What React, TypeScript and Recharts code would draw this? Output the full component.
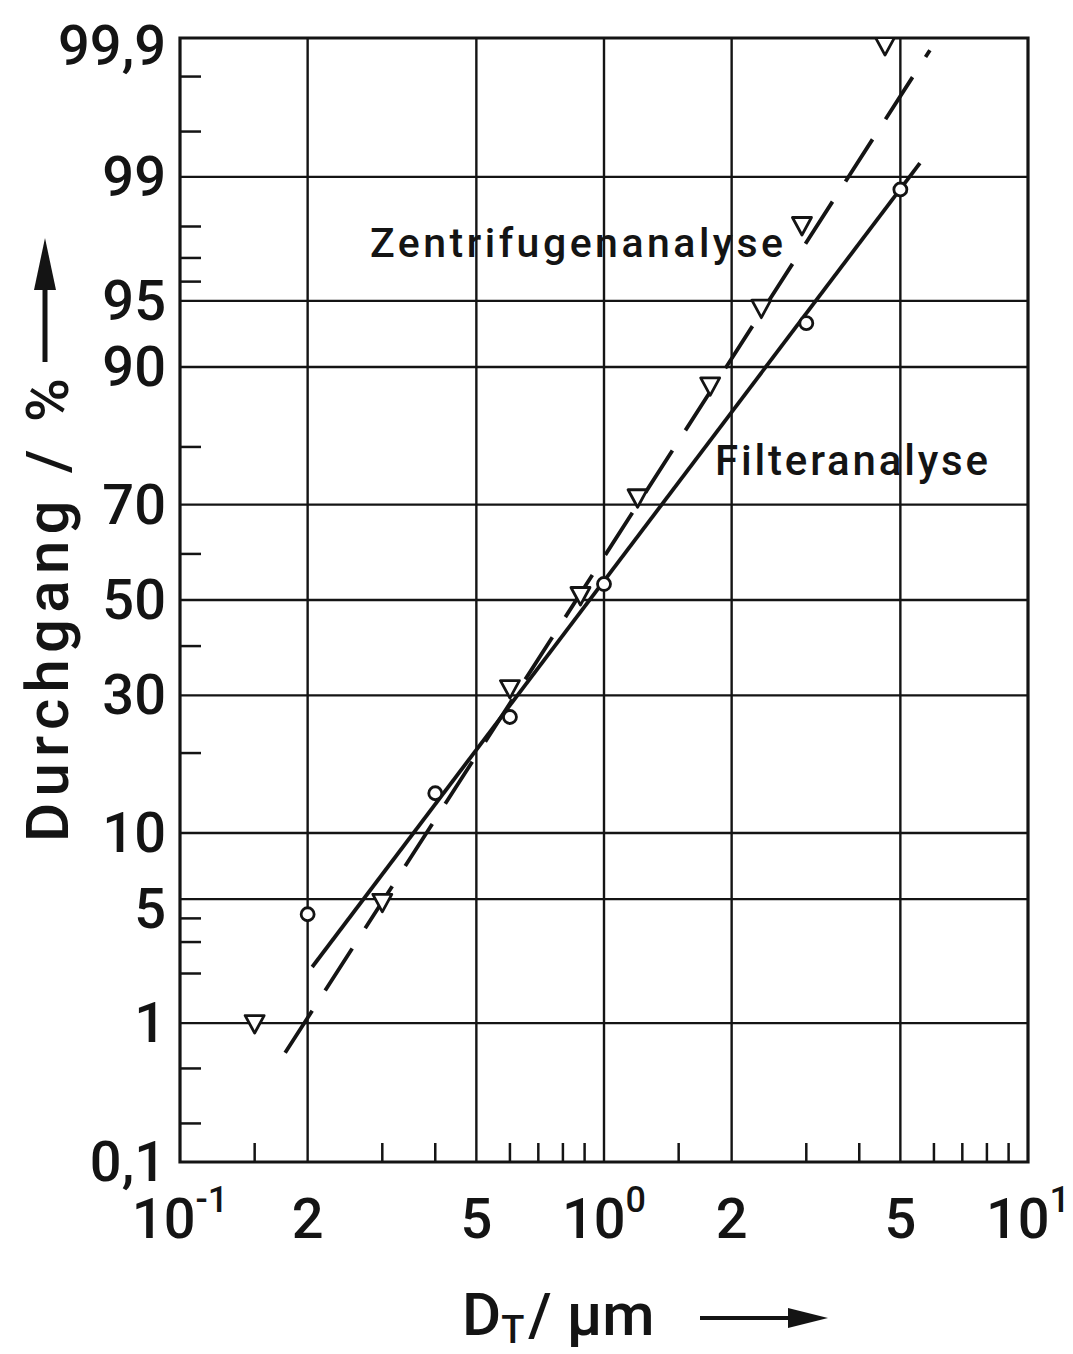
import React from "react";
import { ScatterChart, Scatter, XAxis, YAxis, ReferenceLine, ReferenceArea } from "recharts";

// ---------- data ----------
const filterD = [0.2, 0.4, 0.6, 1.0, 3.0, 5.0];
const filterP = [4.2, 14.4, 26.0, 53.5, 93.6, 98.8];

const zentD = [0.15, 0.3, 0.6, 0.88, 1.2, 1.78, 2.35, 2.93, 4.6];
const zentP = [1.0, 4.85, 31.4, 51.1, 71.4, 88.1, 94.6, 98.04, 99.886];

const filterLineD = [0.205, 5.56];
const filterLineP = [2.18, 99.186];
const zentLineD = [0.177, 5.87];
const zentLineP = [0.639, 99.875];

const yMajor = [0.1, 1, 5, 10, 30, 50, 70, 90, 95, 99, 99.9];
const yMajorLabels = ["0,1", "1", "5", "10", "30", "50", "70", "90", "95", "99", "99,9"];
const yMinor = [0.2, 0.5, 2, 3, 4, 20, 40, 60, 80, 96, 97, 98, 99.5, 99.8];

const xMajor = [0.1, 0.2, 0.5, 1, 2, 5, 10];
const xMajorBase = ["10", "2", "5", "10", "2", "5", "10"];
const xMajorSup = ["-1", "", "", "0", "", "", "1"];
const xMinor = [0.15, 0.3, 0.4, 0.6, 0.7, 0.8, 0.9, 1.5, 3, 4, 6, 7, 8, 9];

// ---------- probability (probit) transform ----------
function probit(pct: number): number {
  const p = pct / 100;
  const a = [-3.969683028665376e1, 2.209460984245205e2, -2.759285104469687e2, 1.38357751867269e2, -3.066479806614716e1, 2.506628277459239];
  const b = [-5.447609879822406e1, 1.615858368580409e2, -1.556989798598866e2, 6.680131188771972e1, -1.328068155288572e1];
  const c = [-7.784894002430293e-3, -3.223964580411365e-1, -2.400758277161838, -2.549732539343734, 4.374664141464968, 2.938163982698783];
  const d = [7.784695709041462e-3, 3.224671290700398e-1, 2.445134137142996, 3.754408661907416];
  const plow = 0.02425;
  if (p < plow) {
    const q = Math.sqrt(-2 * Math.log(p));
    return (((((c[0] * q + c[1]) * q + c[2]) * q + c[3]) * q + c[4]) * q + c[5]) / ((((d[0] * q + d[1]) * q + d[2]) * q + d[3]) * q + 1);
  }
  if (p <= 1 - plow) {
    const q = p - 0.5;
    const r = q * q;
    return ((((((a[0] * r + a[1]) * r + a[2]) * r + a[3]) * r + a[4]) * r + a[5]) * q) / (((((b[0] * r + b[1]) * r + b[2]) * r + b[3]) * r + b[4]) * r + 1);
  }
  const q = Math.sqrt(-2 * Math.log(1 - p));
  return -(((((c[0] * q + c[1]) * q + c[2]) * q + c[3]) * q + c[4]) * q + c[5]) / ((((d[0] * q + d[1]) * q + d[2]) * q + d[3]) * q + 1);
}

const toPts = (xs: number[], ps: number[]) => xs.map((x, i) => ({ x, z: probit(ps[i]) }));

const filterPts = toPts(filterD, filterP);
const zentPts = toPts(zentD, zentP);
const filterLine = toPts(filterLineD, filterLineP);
const zentLine = toPts(zentLineD, zentLineP);

const yMin = probit(0.1);
const yMax = probit(99.9);
const yTicks = [...yMajor, ...yMinor].map(probit);
const xTicks = [...xMajor, ...xMinor];

const INK = "#141414";
const FONT = "Roboto, 'DejaVu Sans', sans-serif";
const WEIGHT = 500;

// ---------- custom ticks ----------
const YTick = (props: any) => {
  const { x, y, payload } = props;
  const v = payload.value;
  const idx = yMajor.findIndex((m) => Math.abs(probit(m) - v) < 1e-9);
  if (idx >= 0) {
    const extra = idx === yMajor.length - 1 ? 8 : idx === 2 ? 10 : 0;
    return (
      <text x={x - 14} y={y + extra} textAnchor="end" dominantBaseline="central" fontSize={56} fontWeight={WEIGHT} fontFamily={FONT} fill={INK}>
        {yMajorLabels[idx]}
      </text>
    );
  }
  return <line x1={x} x2={x + 21} y1={y} y2={y} stroke={INK} strokeWidth={2.5} />;
};

const XTick = (props: any) => {
  const { x, y, payload } = props;
  const v = payload.value;
  const idx = xMajor.findIndex((m) => Math.abs(m - v) < 1e-9);
  if (idx >= 0) {
    const sup = xMajorSup[idx];
    return (
      <text x={x} y={y + 76} textAnchor="middle" fontSize={56} fontWeight={WEIGHT} fontFamily={FONT} fill={INK}>
        {xMajorBase[idx]}
        {sup ? (
          <tspan fontSize={36} dy={-26}>
            {sup}
          </tspan>
        ) : null}
      </text>
    );
  }
  return <line x1={x} x2={x} y1={y} y2={y - 19} stroke={INK} strokeWidth={2.5} />;
};

// ---------- markers ----------
const Circle = (props: any) => {
  const { cx, cy } = props;
  return <circle cx={cx} cy={cy} r={6.5} fill="#fff" stroke={INK} strokeWidth={2.8} />;
};
const Tri = (props: any) => {
  const { cx, cy } = props;
  const pts = `${cx - 9.5},${cy - 7.5} ${cx + 9.5},${cy - 7.5} ${cx},${cy + 10}`;
  return <polygon points={pts} fill="#fff" stroke={INK} strokeWidth={2.8} strokeLinejoin="round" />;
};
const NoShape = () => <g />;

export default function App() {
  return (
    <div style={{ position: "absolute", left: 0, top: 0, width: 1073, height: 1354, background: "#fff" }}>
      <ScatterChart width={1073} height={1354} margin={{ top: 38, right: 45, bottom: 92, left: 10 }}>
        <XAxis
          dataKey="x"
          type="number"
          scale="log"
          domain={[0.1, 10]}
          ticks={xTicks}
          interval={0}
          allowDataOverflow
          height={100}
          tickSize={0}
          tickMargin={0}
          axisLine={false}
          tickLine={false}
          tick={<XTick />}
        />
        <YAxis
          dataKey="z"
          type="number"
          domain={[yMin, yMax]}
          ticks={yTicks}
          interval={0}
          allowDataOverflow
          width={170}
          tickSize={0}
          tickMargin={0}
          axisLine={false}
          tickLine={false}
          tick={<YTick />}
        />
        {xMajor.slice(1, -1).map((v) => (
          <ReferenceLine key={"gx" + v} x={v} stroke={INK} strokeWidth={2.4} />
        ))}
        {yMajor.slice(1, -1).map((v) => (
          <ReferenceLine key={"gy" + v} y={probit(v)} stroke={INK} strokeWidth={2.4} />
        ))}
        <ReferenceArea x1={0.1} x2={10} y1={yMin} y2={yMax} fill="none" fillOpacity={0} stroke={INK} strokeWidth={3.2} />
        <Scatter
          name="Filteranalyse Gerade"
          data={filterLine}
          line={{ stroke: INK, strokeWidth: 3.8 }}
          shape={<NoShape />}
          isAnimationActive={false}
        />
        <Scatter
          name="Zentrifugenanalyse Gerade"
          data={zentLine}
          line={{ stroke: INK, strokeWidth: 3.8, strokeDasharray: "50 24" }}
          shape={<NoShape />}
          isAnimationActive={false}
        />
        <Scatter name="Filteranalyse" data={filterPts} shape={<Circle />} isAnimationActive={false} />
        <Scatter name="Zentrifugenanalyse" data={zentPts} shape={<Tri />} isAnimationActive={false} />
      </ScatterChart>
      <svg width={1073} height={1354} style={{ position: "absolute", left: 0, top: 0, pointerEvents: "none" }}>
        <text x={370} y={257} fontSize={41} fontWeight={WEIGHT} fontFamily={FONT} fill={INK} textLength={413} lengthAdjust="spacing">
          Zentrifugenanalyse
        </text>
        <text x={715} y={475} fontSize={42} fontWeight={WEIGHT} fontFamily={FONT} fill={INK} textLength={273} lengthAdjust="spacing">
          Filteranalyse
        </text>
        {/* y-axis title */}
        <text
          transform="translate(68,842) rotate(-90)"
          x={0}
          y={0}
          fontSize={60}
          fontWeight={WEIGHT}
          fontFamily={FONT}
          fill={INK}
          textLength={464}
          lengthAdjust="spacing"
        >
          Durchgang / %
        </text>
        <line x1={45} x2={45} y1={362} y2={280} stroke={INK} strokeWidth={5} />
        <polygon points="45,238 34,290 56,290" fill={INK} />
        {/* x-axis title */}
        <text x={462} y={1335} fontSize={60} fontWeight={WEIGHT} fontFamily={FONT} fill={INK}>
          D
          <tspan fontSize={38} dy={8}>
            T
          </tspan>
          <tspan dy={-8} dx={4}>
            / µm
          </tspan>
        </text>
        <line x1={700} x2={800} y1={1318} y2={1318} stroke={INK} strokeWidth={4} />
        <polygon points="828,1318 788,1308 788,1328" fill={INK} />
      </svg>
    </div>
  );
}
